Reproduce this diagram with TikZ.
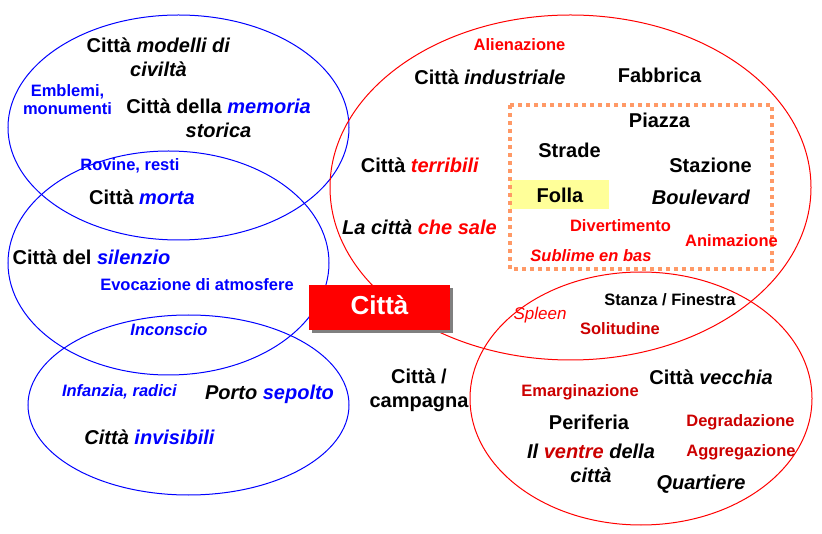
\documentclass[tikz,border=0pt]{standalone}
\usepackage{fontspec}
\setmainfont{Liberation Sans}
\usetikzlibrary{shadows}
\definecolor{cblue}{RGB}{0,0,255}
\definecolor{cred}{RGB}{255,0,0}
\definecolor{cdred}{RGB}{204,0,0}
\definecolor{dotor}{RGB}{255,153,102}
\definecolor{hiyel}{RGB}{255,255,153}
\definecolor{shgray}{RGB}{128,128,128}
\newcommand\bl[1]{\textcolor{cblue}{#1}}
\newcommand\rd[1]{\textcolor{cred}{#1}}
\newcommand\dr[1]{\textcolor{cdred}{#1}}
\newcommand\twolines[2]{\setlength\tabcolsep{0pt}\begin{tabular}[t]{c}#1\\#2\end{tabular}}
\begin{document}
\begin{tikzpicture}[x=1pt,y=-1pt,
  bigt/.style={font=\fontsize{20}{24}\selectfont\bfseries, inner sep=0pt, anchor=base},
  smt/.style={font=\fontsize{16.5}{18}\selectfont\bfseries, inner sep=0pt, anchor=base},
  spl/.style={font=\fontsize{17}{18}\selectfont\itshape, inner sep=0pt, anchor=base},
  bluering/.style={draw=cblue, line width=1pt},
  redring/.style={draw=cred, line width=1pt},
  dotframe/.style={draw=dotor, line width=3.6pt, dash pattern=on 3.6pt off 4.4pt},
  hilite/.style={fill=hiyel, draw=none},
  citybox/.style={fill=cred, draw=none, minimum width=141pt, minimum height=45pt,
     text=white, font=\fontsize{26}{30}\selectfont\bfseries, text height=19pt, text depth=4pt,
     inner sep=0pt,
     drop shadow={shadow xshift=3pt, shadow yshift=-3pt, fill=shgray, opacity=1}},
]
\useasboundingbox[fill=white] (0,0) rectangle (822,534);

% highlight and dotted frame
\fill[hilite] (510,180) rectangle (609.3,209.3);
\draw[dotframe] (510,105) rectangle (772,269);

% ellipses
\draw[bluering] (178.5,127.5) ellipse [x radius=170.5pt, y radius=112.5pt];
\draw[bluering] (168.5,263) ellipse [x radius=160.5pt, y radius=112pt];
\draw[bluering] (188.5,405) ellipse [x radius=160.5pt, y radius=90pt];
\draw[redring] (570.5,187.5) ellipse [x radius=240.5pt, y radius=172.5pt];
\draw[redring] (641,398.5) ellipse [x radius=171pt, y radius=126.5pt];

% left group
\node[bigt] (modelli) at (158.5,53) {\twolines{Città \textit{modelli di}}{\textit{civiltà}}};
\node[smt, text=cblue, font=\fontsize{16.5}{17.5}\selectfont\bfseries] (emblemi) at (67.5,97) {\twolines{Emblemi,}{monumenti}};
\node[bigt] (memoria) at (218.5,113.3) {\twolines{Città della \bl{\textit{memoria}}}{\textit{storica}}};
\node[smt, text=cblue] (rovine) at (130,170.7) {Rovine, resti};
\node[bigt] (morta) at (142,205) {Città \bl{\textit{morta}}};
\node[bigt] (silenzio) at (91.5,265) {Città del \bl{\textit{silenzio}}};
\node[smt, text=cblue] (evocazione) at (197,291) {Evocazione di atmosfere};
\node[smt, text=cblue] (inconscio) at (169,336) {\textit{Inconscio}};
\node[smt, text=cblue] (infanzia) at (119.5,397) {\textit{Infanzia, radici}};
\node[bigt] (porto) at (269.5,400) {\textit{Porto \bl{sepolto}}};
\node[bigt] (invisibili) at (149.5,444.3) {\textit{Città \bl{invisibili}}};
\node[bigt] (campagna) at (419,384) {\twolines{Città /}{campagna}};

% big red ellipse
\node[smt, text=cred] (alienazione) at (519.5,51) {Alienazione};
\node[bigt] (industriale) at (490,84.3) {Città \textit{industriale}};
\node[bigt] (fabbrica) at (659.5,83) {Fabbrica};
\node[bigt] (piazza) at (659.5,127.7) {Piazza};
\node[bigt] (strade) at (569.5,157.7) {Strade};
\node[bigt] (terribili) at (420,172.7) {Città \rd{\textit{terribili}}};
\node[bigt] (stazione) at (710.5,172.7) {Stazione};
\node[bigt] (folla) at (560,202.3) {Folla};
\node[bigt] (boulevard) at (701,205) {\textit{Boulevard}};
\node[bigt] (sale) at (419.5,235) {\textit{La città \rd{che sale}}};
\node[smt, text=cred] (divertimento) at (620.5,231.7) {Divertimento};
\node[smt, text=cred] (animazione) at (731.5,246.7) {Animazione};
\node[smt, text=cred] (sublime) at (591,261.7) {\textit{Sublime en bas}};

% bottom right ellipse
\node[smt] (stanza) at (670,306) {Stanza / Finestra};
\node[spl, text=cred] (spleen) at (540,320) {Spleen};
\node[smt, text=cdred] (solitudine) at (620,335) {Solitudine};
\node[smt, text=cdred] (emarginazione) at (580,396.7) {Emarginazione};
\node[bigt] (vecchia) at (711,385) {Città \textit{vecchia}};
\node[bigt] (periferia) at (589,430) {Periferia};
\node[smt, text=cdred] (degradazione) at (740.5,426) {Degradazione};
\node[bigt] (ventre) at (591,458.3) {\twolines{\textit{Il \dr{ventre} della}}{\textit{città}}};
\node[smt, text=cdred] (aggregazione) at (741,456) {Aggregazione};
\node[bigt] (quartiere) at (701,489) {\textit{Quartiere}};

% central box
\node[citybox] (citta) at (379.5,307.5) {Città};
\end{tikzpicture}
\end{document}
